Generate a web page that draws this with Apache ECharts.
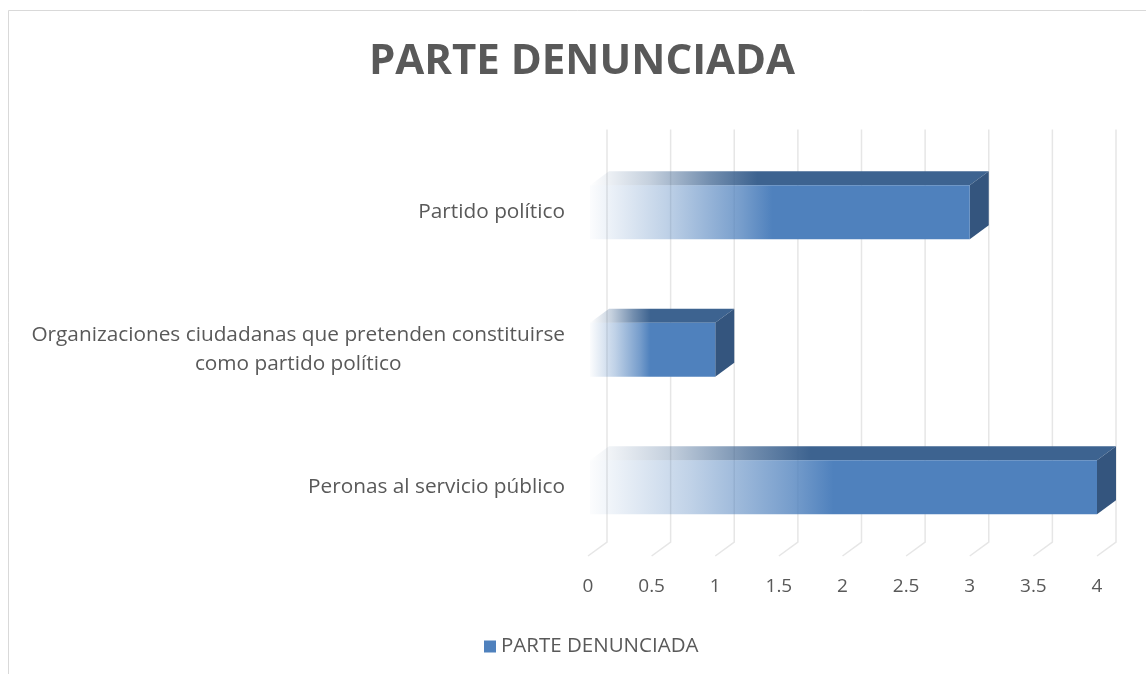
<!DOCTYPE html>
<html>
<head>
<meta charset="utf-8">
<script src="https://cdn.jsdelivr.net/npm/echarts@6/dist/echarts.min.js"></script>
<style>
html,body{margin:0;padding:0;background:#fff;}
#chart{width:1146px;height:674px;}
</style>
</head>
<body>
<div id="chart"></div>
<script>
const categories = [
  'Peronas al servicio público',
  'Organizaciones ciudadanas que pretenden constituirse\ncomo partido político',
  'Partido político'
];
const values = [4, 1, 3];
const tickValues = [0, 0.5, 1, 1.5, 2, 2.5, 3, 3.5, 4];
const seriesName = 'PARTE DENUNCIADA';
const titleText = 'PARTE DENUNCIADA';

const DX = 19, DY = 14;
const FONT = '"Open Sans", sans-serif';
const TXT = '#595959';

const chart = echarts.init(document.getElementById('chart'), null, {renderer: 'canvas'});

function gridRender(params, api) {
  const cs = params.coordSys;
  const p = api.coord([api.value(0), 0]);
  const x = p[0];
  const top = cs.y, bot = cs.y + cs.height;
  return {
    type: 'polyline',
    shape: {points: [[x + DX, top - DY], [x + DX, bot - DY], [x, bot]]},
    style: {stroke: '#e6e6e6', lineWidth: 1.5, fill: null}
  };
}

function barRender(params, api) {
  const v = api.value(0), idx = api.value(1);
  const s = api.coord([0, idx]);
  const e = api.coord([v, idx]);
  const band = api.size([0, 1])[1];
  const h = band * 0.393;
  const x0 = s[0] + 2, x1 = e[0];
  const yT = s[1] - h / 2, yB = s[1] + h / 2;
  const frontGrad = new echarts.graphic.LinearGradient(0, 0, 1, 0, [
    {offset: 0, color: 'rgba(79,129,189,0.02)'},
    {offset: 0.2, color: 'rgba(79,129,189,0.36)'},
    {offset: 0.4, color: 'rgba(79,129,189,0.78)'},
    {offset: 0.48, color: 'rgba(79,129,189,1)'},
    {offset: 1, color: 'rgba(79,129,189,1)'}
  ]);
  const topGrad = new echarts.graphic.LinearGradient(0, 0, 1, 0, [
    {offset: 0, color: 'rgba(61,99,144,0)'},
    {offset: 0.15, color: 'rgba(61,99,144,0.3)'},
    {offset: 0.3, color: 'rgba(61,99,144,0.72)'},
    {offset: 0.42, color: 'rgba(61,99,144,1)'},
    {offset: 1, color: 'rgba(61,99,144,1)'}
  ]);
  return {
    type: 'group',
    children: [
      {type: 'polygon', shape: {points: [[x0, yT], [x0 + DX, yT - DY], [x1 + DX, yT - DY], [x1, yT]]},
       style: {fill: topGrad}},
      {type: 'polygon', shape: {points: [[x1, yT], [x1 + DX, yT - DY], [x1 + DX, yB - DY], [x1, yB]]},
       style: {fill: '#34557e'}},
      {type: 'rect', shape: {x: x0, y: yT, width: x1 - x0, height: yB - yT},
       style: {fill: frontGrad}}
    ]
  };
}

const option = {
  animation: false,
  backgroundColor: '#fff',
  title: {
    text: titleText,
    left: 577, textAlign: 'center', top: 36,
    textStyle: {fontFamily: FONT, fontSize: 42, fontWeight: 'bold', color: TXT}
  },
  legend: {
    data: [{name: seriesName, icon: 'rect'}],
    left: 479, top: 631,
    itemWidth: 12, itemHeight: 12, itemGap: 5,
    textStyle: {fontFamily: FONT, fontSize: 20.5, color: TXT}
  },
  grid: {left: 588, right: 49, top: 143.5, bottom: 118, containLabel: false},
  xAxis: {
    type: 'value', min: 0, max: 4, interval: 0.5,
    axisLine: {show: false}, axisTick: {show: false}, splitLine: {show: false},
    axisLabel: {margin: 21, fontFamily: FONT, fontSize: 19, color: TXT}
  },
  yAxis: {
    type: 'category', data: categories,
    axisLine: {show: false}, axisTick: {show: false}, splitLine: {show: false},
    axisLabel: {
      margin: 23, fontFamily: FONT, fontSize: 20.8, color: TXT,
      formatter: function (val) {
        return val.split('\n').map(l => '{a|' + l + '}').join('\n');
      },
      rich: {a: {fontFamily: FONT, fontSize: 20.8, color: TXT, align: 'center', lineHeight: 29}}
    }
  },
  graphic: [{
    type: 'rect', silent: true, z: 100,
    shape: {x: 8.5, y: 10.5, width: 1300, height: 800},
    style: {fill: null, stroke: '#d9d9d9', lineWidth: 1}
  }],
  series: [
    {
      type: 'custom', name: 'grid3d', silent: true, z: 1,
      renderItem: gridRender, clip: false,
      encode: {x: 0, y: 1},
      data: tickValues.map(v => [v, 0])
    },
    {
      type: 'custom', name: seriesName, z: 5,
      renderItem: barRender, clip: false,
      itemStyle: {color: '#4F81BD'},
      encode: {x: 0, y: 1},
      data: values.map((v, i) => [v, i])
    }
  ]
};
chart.setOption(option);
</script>
</body>
</html>
